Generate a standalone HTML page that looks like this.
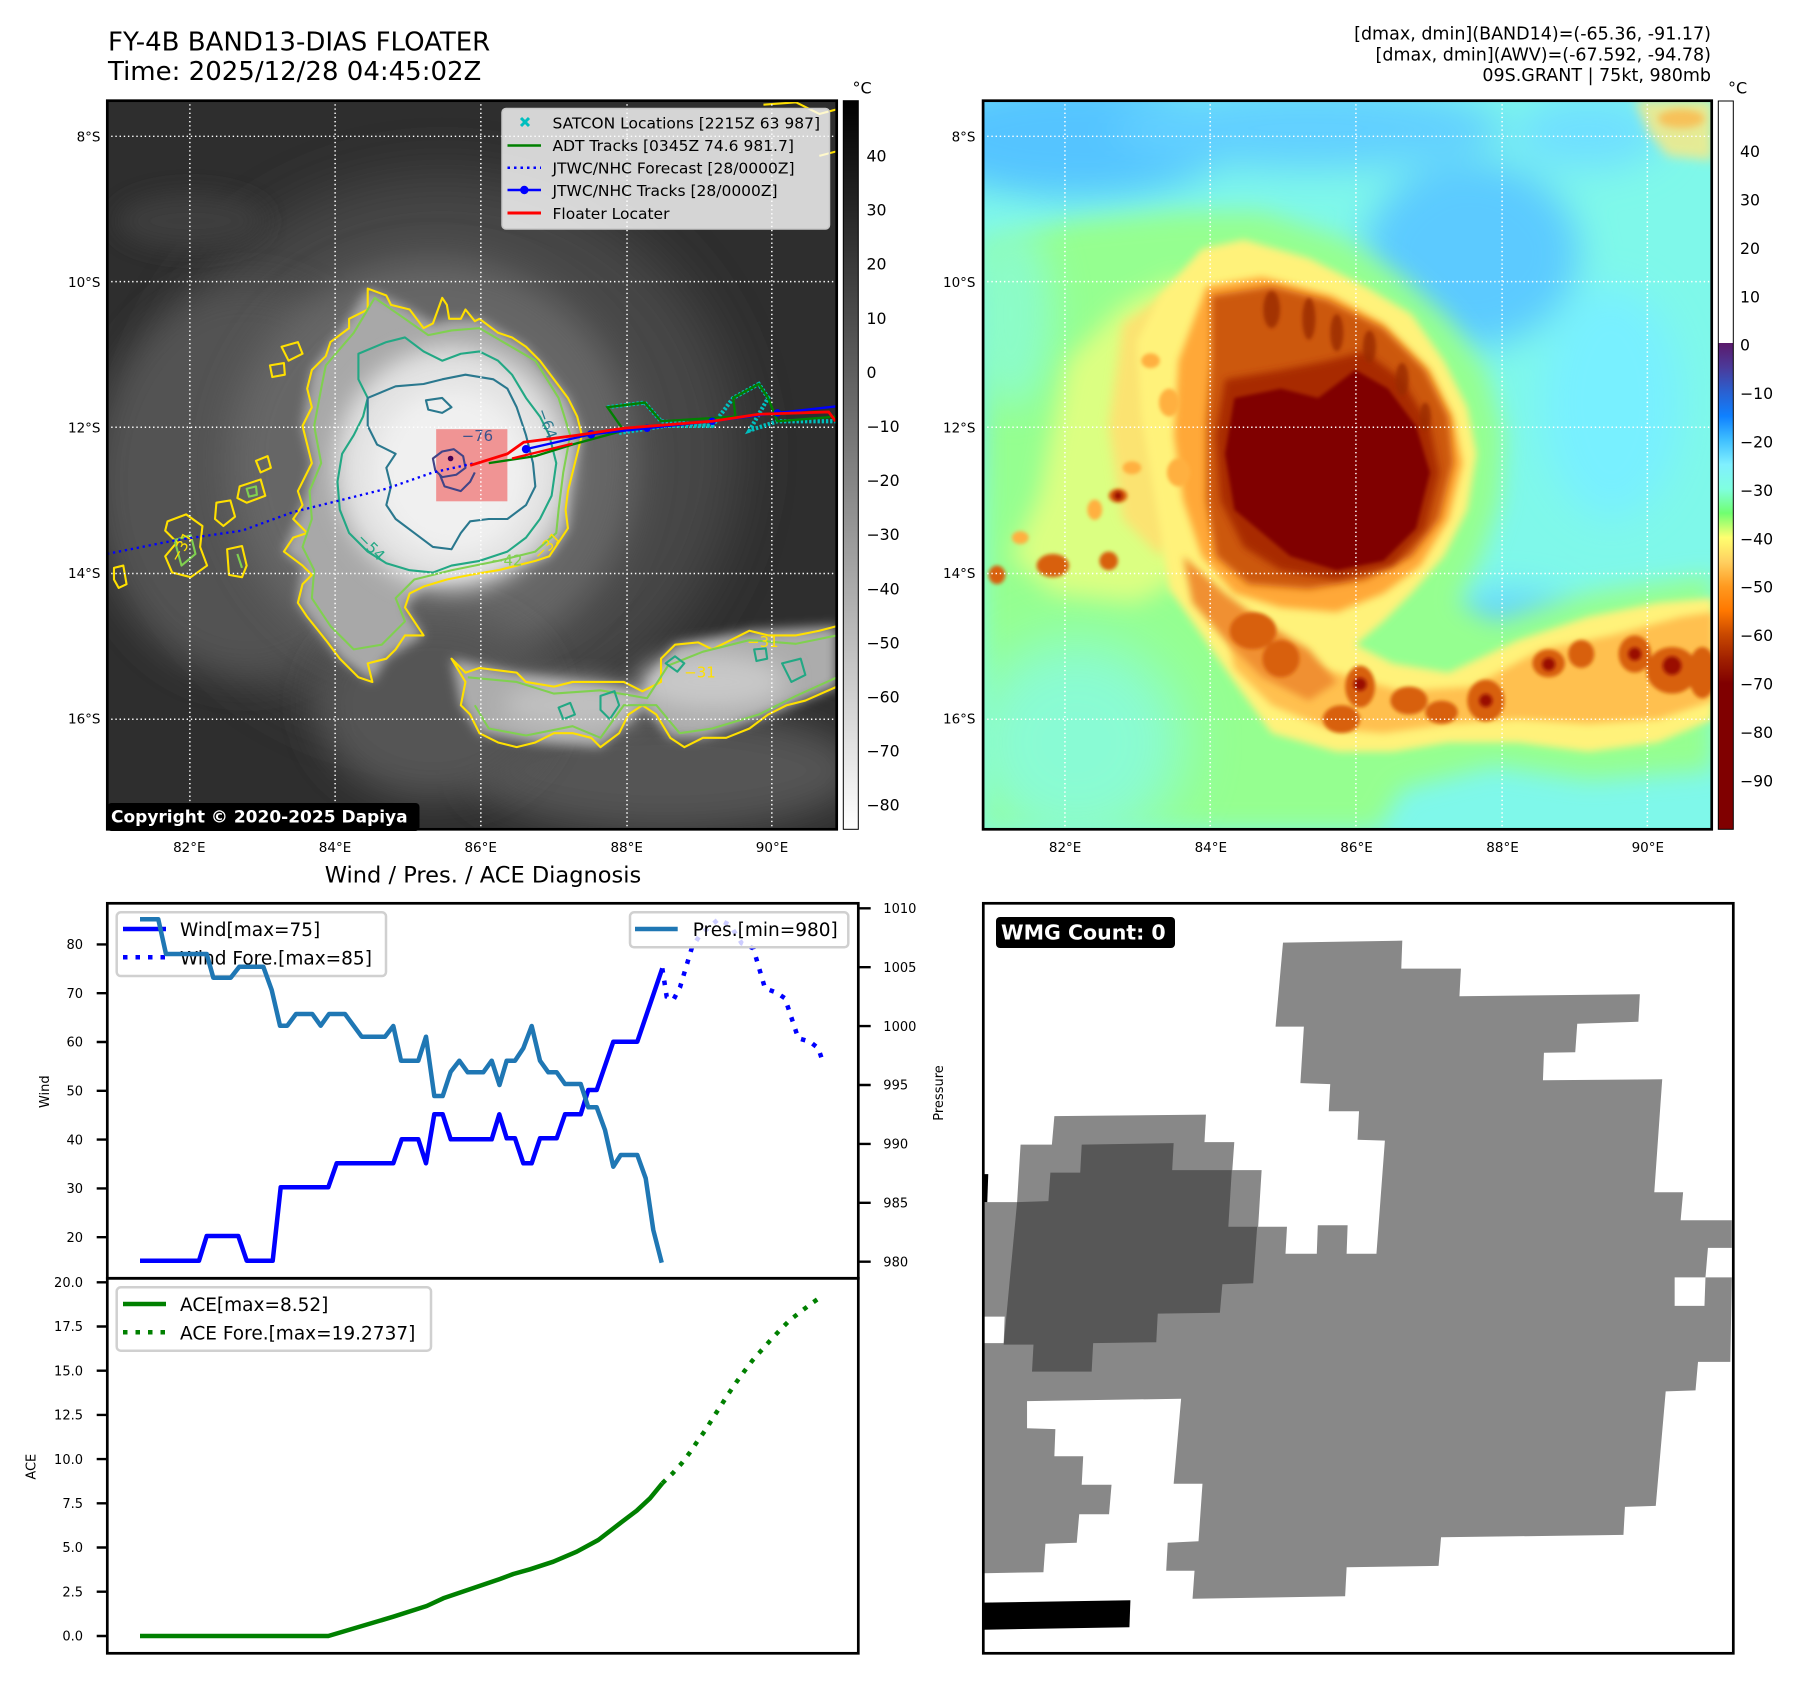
<!DOCTYPE html>
<html><head><meta charset="utf-8"><style>
html,body{margin:0;padding:0;background:#fff;}
svg text{font-family:"DejaVu Sans","Liberation Sans",sans-serif;}
</style></head><body>
<svg xmlns="http://www.w3.org/2000/svg" width="1801" height="1690" viewBox="0 0 1801 1690">
<defs>
<filter id="b4" x="-50%" y="-50%" width="200%" height="200%"><feGaussianBlur stdDeviation="4"/></filter>
<filter id="b8" x="-50%" y="-50%" width="200%" height="200%"><feGaussianBlur stdDeviation="8"/></filter>
<filter id="b12" x="-50%" y="-50%" width="200%" height="200%"><feGaussianBlur stdDeviation="12"/></filter>
<filter id="b25" x="-50%" y="-50%" width="200%" height="200%"><feGaussianBlur stdDeviation="25"/></filter>
<filter id="b40" x="-50%" y="-50%" width="200%" height="200%"><feGaussianBlur stdDeviation="40"/></filter>
<filter id="b60" x="-50%" y="-50%" width="200%" height="200%"><feGaussianBlur stdDeviation="60"/></filter>
<linearGradient id="gGrey" x1="0" y1="0" x2="0" y2="1">
<stop offset="0" stop-color="#000"/><stop offset="1" stop-color="#fff"/>
</linearGradient>
<linearGradient id="gCol" x1="0" y1="0" x2="0" y2="1">
<stop offset="0" stop-color="#5b1a6b"/>
<stop offset="0.05" stop-color="#4b3a9a"/>
<stop offset="0.10" stop-color="#2a60d0"/>
<stop offset="0.15" stop-color="#0f80ff"/>
<stop offset="0.20" stop-color="#40c0ff"/>
<stop offset="0.25" stop-color="#80f0ff"/>
<stop offset="0.30" stop-color="#80ffe0"/>
<stop offset="0.35" stop-color="#70ff70"/>
<stop offset="0.40" stop-color="#ffff70"/>
<stop offset="0.45" stop-color="#ffd060"/>
<stop offset="0.50" stop-color="#ff9a20"/>
<stop offset="0.55" stop-color="#ff7800"/>
<stop offset="0.60" stop-color="#c84800"/>
<stop offset="0.65" stop-color="#a02000"/>
<stop offset="0.70" stop-color="#800000"/>
<stop offset="1" stop-color="#800000"/>
</linearGradient>
</defs>

<!-- ===== Titles ===== -->
<text x="108" y="50.5" font-size="26" fill="#000">FY-4B BAND13-DIAS FLOATER</text>
<text x="108" y="80" font-size="26" fill="#000">Time: 2025/12/28 04:45:02Z</text>
<text x="1711" y="39.5" font-size="17.5" text-anchor="end" fill="#000">[dmax, dmin](BAND14)=(-65.36, -91.17)</text>
<text x="1711" y="60.5" font-size="17.5" text-anchor="end" fill="#000">[dmax, dmin](AWV)=(-67.592, -94.78)</text>
<text x="1711" y="81" font-size="17.5" text-anchor="end" fill="#000">09S.GRANT | 75kt, 980mb</text>

<!-- ===== Left map ===== -->
<svg x="107" y="100" width="730" height="730" viewBox="0 0 1568 1568" preserveAspectRatio="none">
<rect width="1568" height="1568" fill="#2e2e2e"/>
<ellipse cx="720" cy="760" rx="640" ry="600" fill="#464646" filter="url(#b60)"/>
<ellipse cx="300" cy="820" rx="330" ry="420" fill="#525252" filter="url(#b40)"/>
<ellipse cx="700" cy="780" rx="440" ry="440" fill="#666" filter="url(#b40)"/>
<ellipse cx="1200" cy="1440" rx="420" ry="130" fill="#555" filter="url(#b40)"/>
<ellipse cx="700" cy="1300" rx="250" ry="200" fill="#555" filter="url(#b40)"/>
<ellipse cx="180" cy="260" rx="160" ry="60" fill="#3d3d3d" filter="url(#b25)"/>
<path d="M560,405 L650,450 L700,480 L735,470 L800,470 L900,530 L990,640 L1020,720 L990,840 L990,920 L950,980 L840,1010 L680,1045 L640,1090 L680,1150 L600,1200 L570,1250 L500,1200 L410,1080 L420,1000 L380,970 L420,870 L440,780 L420,700 L440,580 L520,470 Z" fill="#a8a8a8" filter="url(#b12)"/>
<path d="M740,1200 L880,1230 L1000,1250 L1150,1270 L1220,1170 L1380,1140 L1568,1130 L1568,1260 L1420,1320 L1280,1370 L1210,1370 L1150,1300 L1060,1390 L920,1380 L800,1360 L760,1300 Z" fill="#acacac" filter="url(#b12)"/>
<ellipse cx="1300" cy="1250" rx="160" ry="60" fill="#c8c8c8" filter="url(#b25)"/>
<ellipse cx="1000" cy="1300" rx="150" ry="50" fill="#c0c0c0" filter="url(#b25)"/>
<ellipse cx="740" cy="790" rx="250" ry="260" fill="#e2e2e2" filter="url(#b25)"/>
<ellipse cx="740" cy="800" rx="170" ry="180" fill="#f0f0f0" filter="url(#b25)"/>
<!-- red floater box -->
<rect x="707" y="707" width="153" height="155" fill="#f08a8a" opacity="0.9"/>
<!-- contours -->
<g fill="none" stroke-width="4.5" stroke-linejoin="round">
<path stroke="#ffe000" d="M560,405 L600,420 L610,440 L650,450 L680,490 L700,480 L720,425 L730,440 L735,470 L760,470 L770,450 L790,475 L800,470 L840,500 L870,510 L900,530 L930,560 L960,600 L990,640 L1010,680 L1020,720 L1010,760 L1000,800 L990,840 L985,880 L990,920 L970,950 L950,980 L920,990 L880,1000 L840,1010 L780,1020 L730,1030 L680,1045 L650,1060 L640,1090 L680,1150 L640,1150 L620,1180 L600,1200 L560,1210 L570,1250 L540,1240 L500,1200 L470,1160 L430,1110 L410,1080 L420,1040 L440,1020 L420,1000 L380,970 L400,940 L430,930 L400,900 L420,870 L410,840 L440,780 L430,740 L420,700 L440,660 L430,620 L440,580 L470,550 L480,520 L520,490 L520,470 L560,450 Z"/>
<path stroke="#80d050" d="M575,425 L640,470 L690,505 L740,495 L800,490 L860,525 L920,560 L970,640 L995,720 L980,800 L970,880 L965,930 L920,970 L840,990 L740,1010 L660,1030 L620,1070 L640,1120 L590,1170 L530,1180 L480,1130 L440,1070 L445,1010 L420,960 L440,900 L435,840 L460,780 L445,700 L460,620 L470,570 L530,500 Z"/>
<path stroke="#22a884" d="M540,545 L600,520 L640,510 L680,540 L720,560 L760,545 L800,540 L840,560 L870,590 L900,640 L930,680 L950,720 L965,780 L955,850 L930,900 L900,940 L860,970 L800,990 L740,1000 L700,1015 L650,1010 L600,995 L560,970 L520,930 L500,880 L495,820 L505,760 L530,720 L550,680 L560,640 L540,600 Z"/>
<path stroke="#2a788e" d="M560,640 L620,615 L680,610 L720,600 L770,590 L830,600 L860,620 L880,660 L900,720 L915,780 L920,830 L900,870 L860,900 L820,900 L780,905 L760,930 L740,965 L700,960 L660,930 L620,900 L600,870 L610,830 L600,790 L620,760 L580,740 L560,700 Z"/>
<path stroke="#2a788e" d="M685,645 L720,640 L740,660 L720,672 L690,665 Z"/>
<path stroke="#414487" d="M700,770 L720,755 L745,750 L765,765 L770,790 L750,805 L720,810 L705,795 Z"/>
<path stroke="#414487" d="M715,805 L725,830 L760,840 L780,820 L790,800"/>
<!-- band contours -->
<path stroke="#ffe000" d="M740,1200 L770,1230 L800,1220 L880,1230 L900,1250 L960,1260 L1000,1250 L1060,1250 L1110,1250 L1150,1270 L1190,1250 L1190,1200 L1220,1170 L1270,1165 L1300,1180 L1340,1160 L1380,1140 L1420,1150 L1480,1150 L1530,1140 L1568,1130 L1568,1260 L1500,1290 L1460,1300 L1420,1320 L1380,1350 L1330,1370 L1280,1370 L1240,1390 L1210,1370 L1180,1320 L1150,1300 L1120,1320 L1100,1360 L1060,1390 L1040,1370 L1000,1360 L960,1360 L920,1380 L880,1390 L840,1380 L800,1360 L780,1320 L760,1300 L770,1250 Z"/>
<path stroke="#80d050" d="M775,1240 L880,1250 L960,1275 L1060,1268 L1160,1285 L1205,1215 L1280,1185 L1380,1160 L1480,1168 L1568,1150 M1568,1240 L1480,1280 L1400,1320 L1300,1350 L1230,1360 L1180,1300 L1110,1300 L1060,1370 L1000,1345 L900,1365 L820,1350 L790,1300"/>
<path stroke="#22a884" d="M1200,1210 L1220,1195 L1240,1210 L1225,1228 Z M1060,1280 L1090,1270 L1100,1300 L1080,1330 L1060,1310 Z M970,1305 L995,1295 L1005,1320 L980,1330 Z M1450,1210 L1490,1200 L1500,1235 L1470,1250 Z M1390,1180 L1415,1178 L1418,1200 L1395,1205 Z"/>
<!-- small left blobs -->
<path stroke="#ffe000" d="M320,775 L345,765 L352,790 L330,800 Z M285,830 L330,815 L340,850 L300,865 L280,855 Z M130,905 L170,890 L205,915 L200,960 L215,1000 L180,1025 L140,1015 L125,980 L150,950 L125,925 Z M235,865 L265,860 L275,895 L250,915 L232,900 Z M258,965 L290,958 L300,1000 L290,1025 L262,1020 Z M15,1005 L35,1000 L42,1040 L25,1048 L15,1030 Z M375,530 L410,520 L420,545 L390,560 Z M350,570 L380,565 L382,590 L355,595 Z M1410,10 L1480,5 L1530,30 L1568,20 M1530,120 L1568,110"/>
<path stroke="#80d050" d="M145,945 L180,935 L190,975 L160,1000 Z M280,975 L290,1005 M300,835 L320,830 L322,848 L305,852 Z"/>
</g>
<g font-size="32" font-family="DejaVu Sans, sans-serif">
<text x="762" y="733" fill="#3b528b">−76</text>
<text x="890" y="665" fill="#2a788e" transform="rotate(70 905 690)">−64</text>
<text x="525" y="960" fill="#22a884" transform="rotate(45 550 965)">−54</text>
<text x="915" y="975" fill="#ffe000" transform="rotate(-45 940 965)">−31</text>
<text x="825" y="1000" fill="#80d050">−42</text>
<text x="1375" y="1175" fill="#ffe000">−31</text>
<text x="1240" y="1240" fill="#ffe000">−31</text>
<text x="130" y="985" fill="#ffe000" transform="rotate(-60 150 970)">−31</text>
</g>
<!-- grid -->
<g stroke="#fff" stroke-width="3.2" stroke-dasharray="3 6" fill="none">
<path d="M178,0V1568 M490,0V1568 M803,0V1568 M1117,0V1568 M1428,0V1568 M0,78H1568 M0,390H1568 M0,703H1568 M0,1017H1568 M0,1330H1568"/>
</g>
<!-- tracks -->
<polyline points="0,975 150,945 290,925 400,885 500,860 600,835 700,800 790,780" fill="none" stroke="#0000ff" stroke-width="5" stroke-dasharray="5 8"/>
<polyline points="1075,660 1155,650 1190,690 1300,700 1345,640 1400,610 1420,640 1380,710 1440,690 1568,690" fill="none" stroke="#00c0c0" stroke-width="9" stroke-dasharray="5 4"/>
<polyline points="1100,715 1200,700 1300,700" fill="none" stroke="#00c0c0" stroke-width="9" stroke-dasharray="5 4"/>
<polyline points="820,780 920,765 1000,740 1110,710 1075,660 1155,650 1190,690 1350,680 1345,640 1400,610 1420,640 1440,690 1568,680" fill="none" stroke="#008000" stroke-width="5"/>
<polyline points="900,750 1040,718 1160,705 1300,690 1440,672 1568,658" fill="none" stroke="#0000ff" stroke-width="5"/>
<g fill="#0000ff"><circle cx="900" cy="750" r="9"/><circle cx="1040" cy="718" r="9"/><circle cx="1160" cy="705" r="8"/><circle cx="1300" cy="690" r="8"/><circle cx="1440" cy="672" r="8"/></g>
<polyline points="780,785 860,760 895,735 1010,720 1110,705 1300,690 1400,675 1550,670 1565,690" fill="none" stroke="#ff0000" stroke-width="6"/>
<polyline points="870,770 1000,738" fill="none" stroke="#ff0000" stroke-width="5"/>
<circle cx="738" cy="770" r="6" fill="#440154"/>
</svg>
<rect x="107.3" y="100.7" width="729.4" height="728.6" fill="none" stroke="#000" stroke-width="2.7"/>

<!-- map legend -->
<rect x="502" y="108.5" width="327.5" height="120.5" rx="4" fill="#fff" fill-opacity="0.8" stroke="#c8c8c8" stroke-width="1.5"/>
<g stroke="#00bfbf" stroke-width="3"><line x1="521" y1="118" x2="529" y2="126"/><line x1="529" y1="118" x2="521" y2="126"/></g>
<line x1="507.5" y1="145.5" x2="541" y2="145.5" stroke="#008000" stroke-width="2.5"/>
<line x1="507.5" y1="167.8" x2="541" y2="167.8" stroke="#0000ff" stroke-width="2.5" stroke-dasharray="2.5 4"/>
<line x1="507.5" y1="190" x2="541" y2="190" stroke="#0000ff" stroke-width="2.5"/>
<circle cx="524.3" cy="190" r="4.2" fill="#0000ff"/>
<line x1="507.5" y1="213" x2="541" y2="213" stroke="#ff0000" stroke-width="3"/>
<g font-size="15.5" fill="#000">
<text x="552.5" y="128.3">SATCON Locations [2215Z 63 987]</text>
<text x="552.5" y="151">ADT Tracks [0345Z 74.6 981.7]</text>
<text x="552.5" y="173.5">JTWC/NHC Forecast [28/0000Z]</text>
<text x="552.5" y="196">JTWC/NHC Tracks [28/0000Z]</text>
<text x="552.5" y="219">Floater Locater</text>
</g>
<!-- copyright -->
<rect x="107.5" y="803" width="312" height="28" rx="4" fill="#000"/>
<text x="111" y="822.7" font-size="17" font-weight="bold" fill="#fff">Copyright © 2020-2025 Dapiya</text>

<!-- left colorbar -->
<rect x="843.3" y="100.7" width="15" height="728.6" fill="url(#gGrey)" stroke="#000" stroke-width="1"/>
<text x="852.5" y="93.3" font-size="16" fill="#000">°C</text>
<g font-size="15.7" fill="#000">
<text x="866.5" y="161.5">40</text><text x="866.5" y="215.6">30</text><text x="866.5" y="269.7">20</text><text x="866.5" y="323.8">10</text><text x="866.5" y="377.9">0</text>
<text x="866.5" y="432">−10</text><text x="866.5" y="486.1">−20</text><text x="866.5" y="540.2">−30</text><text x="866.5" y="594.3">−40</text><text x="866.5" y="648.4">−50</text><text x="866.5" y="702.5">−60</text><text x="866.5" y="756.6">−70</text><text x="866.5" y="810.7">−80</text>
</g>

<!-- map tick labels -->
<g font-size="13.5" fill="#000" text-anchor="end">
<text x="100.5" y="141.5">8°S</text><text x="100.5" y="287">10°S</text><text x="100.5" y="432.5">12°S</text><text x="100.5" y="578">14°S</text><text x="100.5" y="723.5">16°S</text>
<text x="975.5" y="141.5">8°S</text><text x="975.5" y="287">10°S</text><text x="975.5" y="432.5">12°S</text><text x="975.5" y="578">14°S</text><text x="975.5" y="723.5">16°S</text>
</g>
<g font-size="13.5" fill="#000" text-anchor="middle">
<text x="189.3" y="852">82°E</text><text x="335" y="852">84°E</text><text x="480.7" y="852">86°E</text><text x="626.7" y="852">88°E</text><text x="772" y="852">90°E</text>
<text x="1065.1" y="852">82°E</text><text x="1210.8" y="852">84°E</text><text x="1356.5" y="852">86°E</text><text x="1502.5" y="852">88°E</text><text x="1647.8" y="852">90°E</text>
</g>

<!-- ===== Right map ===== -->
<svg x="983" y="100" width="730" height="730" viewBox="0 0 1568 1568" preserveAspectRatio="none">
<rect width="1568" height="1568" fill="#7ff8ea"/>
<g filter="url(#b40)">
<ellipse cx="200" cy="80" rx="350" ry="130" fill="#55c4ff"/>
<ellipse cx="700" cy="60" rx="420" ry="90" fill="#62d0ff"/>
<ellipse cx="1050" cy="330" rx="230" ry="200" fill="#5ccaff"/>
<ellipse cx="1300" cy="70" rx="160" ry="80" fill="#70e0ff"/>
<ellipse cx="1130" cy="1150" rx="150" ry="90" fill="#62d0ff"/>
<ellipse cx="50" cy="600" rx="80" ry="250" fill="#70e8ff"/>
<ellipse cx="1350" cy="650" rx="150" ry="250" fill="#78f0ff"/>
</g>
<path d="M0,300 L200,260 L420,240 L600,240 L780,300 L900,380 L1000,470 L1080,580 L1120,720 L1110,860 L1070,980 L1020,1080 L1100,1120 L1300,1060 L1568,1020 L1568,1440 L1300,1460 L1100,1430 L900,1480 L850,1568 L0,1568 Z" fill="#95ff90" filter="url(#b25)"/>
<ellipse cx="200" cy="1380" rx="230" ry="220" fill="#88fbe0" opacity="0.85" filter="url(#b60)"/>
<ellipse cx="60" cy="460" rx="90" ry="200" fill="#88fbe0" opacity="0.7" filter="url(#b40)"/>
<!-- left yellow-green spread -->
<path d="M180,560 L300,440 L420,380 L470,420 L440,1020 L330,1080 L150,1060 L60,980 L120,850 L150,700 Z" fill="#e8ff80" opacity="0.85" filter="url(#b25)"/>
<path d="M300,480 L420,400 L460,560 L440,900 L380,980 L300,900 L270,700 Z" fill="#ffe070" opacity="0.9" filter="url(#b12)"/>
<path d="M330,520 L380,420 L470,320 L560,300 L700,340 L820,400 L920,460 L990,560 L1040,660 L1060,760 L1040,880 L990,980 L920,1060 L860,1120 L800,1170 L880,1210 L1000,1230 L1150,1160 L1300,1110 L1450,1080 L1568,1070 L1568,1330 L1450,1380 L1300,1400 L1150,1380 L1000,1380 L880,1400 L760,1400 L620,1360 L540,1250 L470,1150 L400,1050 L380,920 L360,800 L340,680 Z" fill="#fff27a" filter="url(#b8)"/>
<path d="M520,1120 L620,1200 L760,1230 L900,1270 L1050,1260 L1200,1180 L1350,1150 L1500,1110 L1568,1100 L1568,1290 L1450,1330 L1300,1340 L1150,1330 L1000,1340 L860,1360 L740,1350 L620,1300 L540,1220 Z" fill="#ffc050" filter="url(#b8)"/>
<path d="M420,560 L480,400 L600,380 L750,420 L860,480 L960,580 L1010,680 L1030,780 L1000,900 L940,1000 L860,1060 L760,1100 L640,1090 L540,1060 L470,980 L430,860 L410,720 Z" fill="#ffa838" filter="url(#b8)"/>
<!-- spiral arm toward band -->
<path d="M430,980 L520,1060 L600,1120 L700,1180 L760,1250 L700,1290 L600,1240 L520,1160 L450,1080 Z" fill="#f09030" filter="url(#b8)"/>
<path d="M490,420 L620,400 L740,430 L860,490 L950,580 L1000,680 L1010,780 L980,900 L920,980 L820,1030 L700,1050 L570,1040 L500,980 L480,860 L480,700 L490,560 Z" fill="#cc5810" filter="url(#b8)"/>
<path d="M520,600 L640,580 L740,560 L820,540 L900,600 L960,700 L980,800 L950,920 L880,1000 L760,1030 L640,1010 L560,960 L510,860 L500,720 Z" fill="#a82a06" filter="url(#b8)"/>
<path d="M540,640 L640,620 L720,640 L800,580 L870,620 L930,700 L960,800 L930,920 L860,990 L760,1010 L660,980 L600,930 L540,880 L520,760 Z" fill="#800000" filter="url(#b4)"/>
<g fill="#9a2a06" opacity="0.8" filter="url(#b4)">
<ellipse cx="620" cy="450" rx="18" ry="40"/><ellipse cx="700" cy="470" rx="14" ry="45"/><ellipse cx="760" cy="500" rx="14" ry="40"/><ellipse cx="830" cy="530" rx="14" ry="35"/><ellipse cx="900" cy="600" rx="14" ry="35"/><ellipse cx="950" cy="680" rx="12" ry="30"/>
</g>
<g fill="#d86010" filter="url(#b4)">
<ellipse cx="810" cy="1260" rx="32" ry="45"/><ellipse cx="915" cy="1290" rx="40" ry="30"/><ellipse cx="985" cy="1315" rx="35" ry="25"/><ellipse cx="1080" cy="1290" rx="40" ry="45"/><ellipse cx="1215" cy="1210" rx="35" ry="30"/><ellipse cx="1285" cy="1190" rx="28" ry="30"/><ellipse cx="1400" cy="1190" rx="35" ry="40"/><ellipse cx="1480" cy="1225" rx="55" ry="50"/><ellipse cx="1545" cy="1230" rx="30" ry="55"/><ellipse cx="770" cy="1330" rx="40" ry="30"/><ellipse cx="580" cy="1140" rx="50" ry="40"/><ellipse cx="640" cy="1200" rx="40" ry="40"/>
<ellipse cx="290" cy="850" rx="20" ry="15"/><ellipse cx="270" cy="990" rx="20" ry="20"/><ellipse cx="150" cy="1000" rx="35" ry="25"/><ellipse cx="30" cy="1020" rx="18" ry="20"/>
</g>
<g fill="#ffb040" filter="url(#b4)">
<ellipse cx="320" cy="790" rx="20" ry="14"/><ellipse cx="240" cy="880" rx="16" ry="22"/><ellipse cx="420" cy="800" rx="25" ry="30"/><ellipse cx="400" cy="650" rx="22" ry="30"/><ellipse cx="80" cy="940" rx="18" ry="14"/><ellipse cx="360" cy="560" rx="20" ry="16"/>
</g>
<g fill="#9a1000" filter="url(#b4)">
<circle cx="1215" cy="1212" r="14"/><circle cx="1400" cy="1190" r="14"/><circle cx="1480" cy="1215" r="20"/><circle cx="810" cy="1255" r="14"/><circle cx="1080" cy="1290" r="14"/><circle cx="290" cy="850" r="9"/>
</g>
<path d="M1400,0 L1568,0 L1568,130 L1470,120 L1430,70 Z" fill="#ffe880" opacity="0.8" filter="url(#b12)"/>
<ellipse cx="1500" cy="40" rx="50" ry="20" fill="#ffb040" opacity="0.7" filter="url(#b8)"/>
<g stroke="#fff" stroke-width="3.2" stroke-dasharray="3 6" fill="none">
<path d="M176,0V1568 M488,0V1568 M801,0V1568 M1115,0V1568 M1427,0V1568 M0,78H1568 M0,390H1568 M0,703H1568 M0,1017H1568 M0,1330H1568"/>
</g>
</svg>
<rect x="983.1" y="100.7" width="728.6" height="728.6" fill="none" stroke="#000" stroke-width="2.7"/>

<!-- right colorbar -->
<rect x="1718.3" y="101" width="15" height="242" fill="#fff"/>
<rect x="1718.3" y="343" width="15" height="486.3" fill="url(#gCol)"/>
<rect x="1718.3" y="101" width="15" height="728.3" fill="none" stroke="#000" stroke-width="1"/>
<text x="1728" y="93.3" font-size="16" fill="#000">°C</text>
<g font-size="15.7" fill="#000">
<text x="1740" y="157.1">40</text><text x="1740" y="205.5">30</text><text x="1740" y="253.9">20</text><text x="1740" y="302.3">10</text><text x="1740" y="350.7">0</text>
<text x="1740" y="399.1">−10</text><text x="1740" y="447.5">−20</text><text x="1740" y="495.9">−30</text><text x="1740" y="544.3">−40</text><text x="1740" y="592.7">−50</text><text x="1740" y="641.1">−60</text><text x="1740" y="689.5">−70</text><text x="1740" y="737.9">−80</text><text x="1740" y="786.3">−90</text>
</g>

<!-- ===== Wind / Pressure / ACE chart ===== -->
<text x="483" y="882.3" font-size="22.5" text-anchor="middle" fill="#000">Wind / Pres. / ACE Diagnosis</text>

<!-- wind series -->
<polyline fill="none" stroke="#0000ff" stroke-width="4.5" stroke-linejoin="round" points="140,1260.7 199,1260.7 206.7,1236 238.3,1236 246.7,1260.7 272.7,1260.7 280.7,1187.3 328.3,1187.3 336.7,1163.3 393.3,1163.3 401.7,1139.3 418.3,1139.3 426,1163.3 434.3,1114.3 442.7,1114.3 450.7,1139.3 491.7,1139.3 499.3,1114.3 506.7,1138.3 515,1138.3 523.3,1163.3 531.7,1163.3 540,1138.3 556.7,1138.3 565,1114.3 580.7,1114.3 588.3,1090 596.7,1090 613.3,1041.7 637.3,1041.7 662.3,968.3"/>
<polyline fill="none" stroke="#0000ff" stroke-width="4.5" stroke-dasharray="4.5 8" points="662.3,968.3 666.7,996.7 673.3,1000 680,987.3 691.7,948.3 700,935 718.3,919.3 730,925 741.7,943.3 753.3,948.3 765,988.3 776.7,992.7 785,998.3 798.3,1038.3 810,1041.7 818.3,1048.3 823.3,1063.3"/>
<!-- wind legend -->
<rect x="116.7" y="912.3" width="269.3" height="63.7" rx="4" fill="#fff" fill-opacity="0.8" stroke="#d0d0d0" stroke-width="2.5"/>
<line x1="123" y1="929" x2="166" y2="929" stroke="#0000ff" stroke-width="4.5"/>
<line x1="123" y1="957.3" x2="166" y2="957.3" stroke="#0000ff" stroke-width="4.5" stroke-dasharray="4.5 8"/>
<text x="180" y="936" font-size="18.5" fill="#000">Wind[max=75]</text>
<text x="180" y="964.3" font-size="18.5" fill="#000">Wind Fore.[max=85]</text>
<!-- pressure series -->
<polyline fill="none" stroke="#1f77b4" stroke-width="4.5" stroke-linejoin="round" points="140,919.3 158.3,919.3 166,954 206.7,954 213.3,977.7 230.7,977.7 239.3,966.7 263.3,966.7 271.7,990 280,1025.7 287.3,1025.7 296,1014 312.3,1014 320.7,1025.7 329,1014 345,1014 361.7,1036.7 385,1036.7 393.3,1026 401,1060.7 418.3,1060.7 426,1036.7 434.3,1096 442.7,1096 450.7,1071.7 459.3,1060.7 467.7,1072.3 483.3,1072.3 491.7,1060.7 499.5,1085 506.7,1060.7 515,1060.7 523.3,1048.3 531.7,1026 540,1060.7 548.3,1072.3 556.7,1072.3 565,1084 580.7,1084 588.3,1107.3 596.7,1107.3 605,1130 613.3,1166.7 620.7,1155 637.3,1155 645.7,1178.3 653.3,1230 661.7,1262.7"/>
<!-- pressure legend -->
<rect x="630" y="912.3" width="218.3" height="35" rx="4" fill="#fff" fill-opacity="0.8" stroke="#d0d0d0" stroke-width="2.5"/>
<line x1="635" y1="929" x2="677.7" y2="929" stroke="#1f77b4" stroke-width="4.5"/>
<text x="692.7" y="936" font-size="18.5" fill="#000">Pres.[min=980]</text>

<!-- ACE series -->
<polyline fill="none" stroke="#008000" stroke-width="4.5" stroke-linejoin="round" points="140,1636 328.3,1636 393.3,1616.7 426.7,1606 443.3,1598.3 500,1579 513.3,1574 530,1569.3 553.3,1561.7 576.7,1551.7 598.3,1540 620,1523.3 636.7,1510.7 650,1498.3 662.3,1483.3"/>
<polyline fill="none" stroke="#008000" stroke-width="4.5" stroke-dasharray="4.5 8" points="662.3,1483.3 672.7,1473.3 681.7,1463.3 690,1452.3 698.3,1440 706,1429.3 713.3,1417.3 720.7,1406 728.3,1394 736,1382.7 744,1371.7 752.3,1360.7 761.7,1350 770.7,1340 780,1330 790,1320 800.7,1311.7 811.7,1303.3 822.7,1295.7"/>
<rect x="116.7" y="1287.3" width="314.3" height="63.4" rx="4" fill="#fff" fill-opacity="0.8" stroke="#d0d0d0" stroke-width="2.5"/>
<line x1="123" y1="1304" x2="166" y2="1304" stroke="#008000" stroke-width="4.5"/>
<line x1="123" y1="1332.3" x2="166" y2="1332.3" stroke="#008000" stroke-width="4.5" stroke-dasharray="4.5 8"/>
<text x="180" y="1311" font-size="18.5" fill="#000">ACE[max=8.52]</text>
<text x="180" y="1339.3" font-size="18.5" fill="#000">ACE Fore.[max=19.2737]</text>

<!-- axes frames -->
<rect x="107.3" y="903.3" width="751" height="375" fill="none" stroke="#000" stroke-width="2.7"/>
<rect x="107.3" y="1278.3" width="751" height="375" fill="none" stroke="#000" stroke-width="2.7"/>
<g stroke="#000" stroke-width="2.4">
<path d="M96.7,1237.2H107 M96.7,1188.4H107 M96.7,1139.6H107 M96.7,1090.8H107 M96.7,1042H107 M96.7,993.2H107 M96.7,944.4H107"/>
<path d="M858.3,908.3H870.7 M858.3,967.2H870.7 M858.3,1026.1H870.7 M858.3,1085H870.7 M858.3,1143.9H870.7 M858.3,1202.8H870.7 M858.3,1261.7H870.7"/>
<path d="M96.7,1282.3H107 M96.7,1326.5H107 M96.7,1370.7H107 M96.7,1414.9H107 M96.7,1459.1H107 M96.7,1503.3H107 M96.7,1547.5H107 M96.7,1591.7H107 M96.7,1636H107"/>
</g>
<g font-size="13" fill="#000" text-anchor="end">
<text x="83" y="1241.9">20</text><text x="83" y="1193.1">30</text><text x="83" y="1144.3">40</text><text x="83" y="1095.5">50</text><text x="83" y="1046.7">60</text><text x="83" y="997.9">70</text><text x="83" y="949.1">80</text>
<text x="83" y="1287">20.0</text><text x="83" y="1331.2">17.5</text><text x="83" y="1375.4">15.0</text><text x="83" y="1419.6">12.5</text><text x="83" y="1463.8">10.0</text><text x="83" y="1508">7.5</text><text x="83" y="1552.2">5.0</text><text x="83" y="1596.4">2.5</text><text x="83" y="1640.7">0.0</text>
</g>
<g font-size="13" fill="#000">
<text x="883.3" y="913">1010</text><text x="883.3" y="971.9">1005</text><text x="883.3" y="1030.8">1000</text><text x="883.3" y="1089.7">995</text><text x="883.3" y="1148.6">990</text><text x="883.3" y="1207.5">985</text><text x="883.3" y="1266.4">980</text>
</g>
<text x="0" y="0" font-size="13" fill="#000" text-anchor="middle" transform="translate(49,1091.7) rotate(-90)">Wind</text>
<text x="0" y="0" font-size="13" fill="#000" text-anchor="middle" transform="translate(943,1093) rotate(-90)">Pressure</text>
<text x="0" y="0" font-size="13" fill="#000" text-anchor="middle" transform="translate(35.5,1466.7) rotate(-90)">ACE</text>

<!-- ===== WMG panel ===== -->
<svg x="983.3" y="903.3" width="750" height="750" viewBox="17 17 1509 1526" preserveAspectRatio="none">
<rect x="0" y="0" width="1600" height="1600" fill="#fff"/>
<path fill="#888888" d="M620,97 L860,93 L858,150 L978,150 L975,206 L1338,202 L1335,258 L1212,262 L1208,320 L1145,321 L1143,377 L1383,375 L1367,605 L1425,605 L1420,662 L1523,662 L1523,718 L1475,718 L1470,778 L1523,778 L1520,950 L1455,950 L1450,1008 L1390,1010 L1370,1243 L1308,1245 L1305,1302 L938,1307 L933,1365 L748,1368 L745,1427 L438,1432 L442,1375 L385,1375 L388,1318 L450,1315 L458,1198 L400,1198 L415,1025 L105,1030 L105,1085 L162,1087 L160,1142 L218,1142 L215,1200 L275,1200 L270,1260 L210,1260 L205,1318 L142,1320 L138,1378 L17,1380 L17,912 L58,912 L60,858 L17,858 L17,625 L85,625 L92,508 L155,508 L160,450 L465,447 L462,503 L522,503 L518,560 L577,560 L570,675 L628,675 L625,730 L688,730 L690,672 L750,672 L748,730 L808,730 L825,500 L770,498 L773,440 L712,440 L715,385 L655,383 L662,268 L605,268 Z"/>
<path fill="#fff" d="M1408,778 L1470,778 L1468,836 L1408,836 Z"/>
<path fill="#575757" d="M215,508 L400,505 L397,560 L517,560 L510,675 L568,675 L560,790 L498,792 L493,850 L368,852 L365,910 L238,912 L235,970 L115,970 L118,915 L58,915 L85,625 L148,623 L152,565 L212,565 Z"/>
<path fill="#000" d="M17,568 L27,568 L25,625 L17,625 Z"/>
<path fill="#000" d="M17,1440 L313,1435 L311,1490 L17,1495 Z"/>
</svg>
<rect x="983.3" y="903.3" width="750" height="750" fill="none" stroke="#000" stroke-width="2.7"/>
<rect x="996" y="917" width="179" height="31" rx="4" fill="#000"/>
<text x="1001" y="939.5" font-size="20.5" font-weight="bold" fill="#fff">WMG Count: 0</text>
</svg>
</body></html>
